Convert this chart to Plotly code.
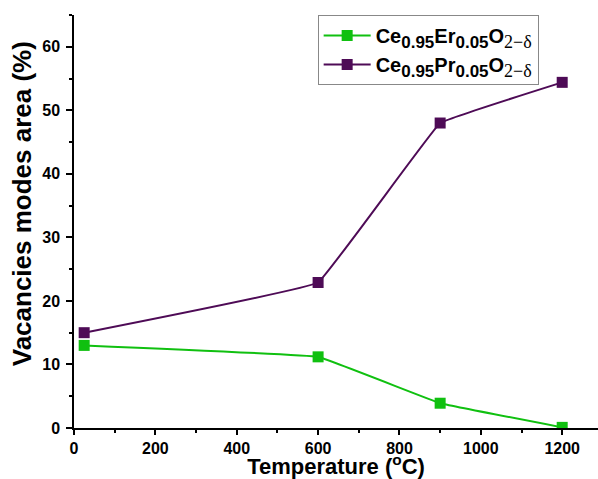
import plotly.graph_objects as go

temperature = [25, 600, 900, 1200]
er_values = [13.0, 11.2, 3.9, 0.1]
pr_values = [15.0, 22.9, 48.0, 54.4]

x_ticks = [0, 200, 400, 600, 800, 1000, 1200]
y_ticks = [0, 10, 20, 30, 40, 50, 60]

green = "#10c010"
purple = "#4e0b56"


def sub(t):
    return "<sub><span style=\"font-size:17px\">" + t + "</span></sub>"


serif = ("<sub><span style=\"font-family:'Liberation Serif';font-weight:normal;font-size:18px\">"
         "2\u2212\u03b4</span></sub>")
er_name = "Ce" + sub("0.95") + "Er" + sub("0.05") + "O" + serif
pr_name = "Ce" + sub("0.95") + "Pr" + sub("0.05") + "O" + serif

fig = go.Figure()
fig.add_trace(go.Scatter(
    x=temperature, y=er_values, name=er_name, mode="lines+markers",
    line=dict(color=green, width=2, shape="spline", smoothing=0.15),
    marker=dict(symbol="square", size=11, color=green),
))
fig.add_trace(go.Scatter(
    x=temperature, y=pr_values, name=pr_name, mode="lines+markers",
    line=dict(color=purple, width=2, shape="spline", smoothing=0.15),
    marker=dict(symbol="square", size=11, color=purple),
))

font_family = "Liberation Sans, Arial, sans-serif"

fig.update_layout(
    width=598, height=479,
    margin=dict(l=74, r=0, t=15, b=51, autoexpand=False),
    paper_bgcolor="white", plot_bgcolor="white",
    font=dict(family=font_family, color="black"),
    showlegend=True,
    legend=dict(
        x=0.465, y=1.0, xanchor="left", yanchor="top",
        bgcolor="white", bordercolor="#888888", borderwidth=1,
        font=dict(size=20, family=font_family, weight="bold"),
        itemwidth=47, tracegroupgap=0,
    ),
    xaxis=dict(
        range=[0, 1288], tickvals=x_ticks, automargin=False,
        showgrid=False, zeroline=False,
        showline=True, linecolor="black", linewidth=1.5,
        ticks="outside", ticklen=5, tickwidth=1.5, tickcolor="black",
        tickfont=dict(size=16, family=font_family, weight="bold"),
        minor=dict(dtick=100, ticks="outside", ticklen=3, tickwidth=1.5, tickcolor="black", showgrid=False),
        title=dict(text="Temperature (<sup>o</sup>C)", font=dict(size=22, family=font_family, weight="bold"), standoff=2),
    ),
    yaxis=dict(
        range=[0, 65], tickvals=y_ticks, automargin=False,
        showgrid=False, zeroline=False,
        showline=True, linecolor="black", linewidth=1.5,
        ticks="outside", ticklen=6, tickwidth=1.5, tickcolor="black",
        ticklabelstandoff=3,
        tickfont=dict(size=16, family=font_family, weight="bold"),
        minor=dict(dtick=5, ticks="outside", ticklen=3, tickwidth=1.5, tickcolor="black", showgrid=False),
    ),
    annotations=[dict(
        text="Vacancies modes area (%)", textangle=-90,
        xref="paper", yref="paper", x=-0.099, y=0.542,
        xanchor="center", yanchor="middle", showarrow=False,
        font=dict(size=26, family=font_family, weight="bold", color="black"),
    )],
)

fig.write_html(
    "out.html",
    config={"displayModeBar": False},
    post_script="document.body.style.margin='0';document.body.style.overflow='hidden';",
)
